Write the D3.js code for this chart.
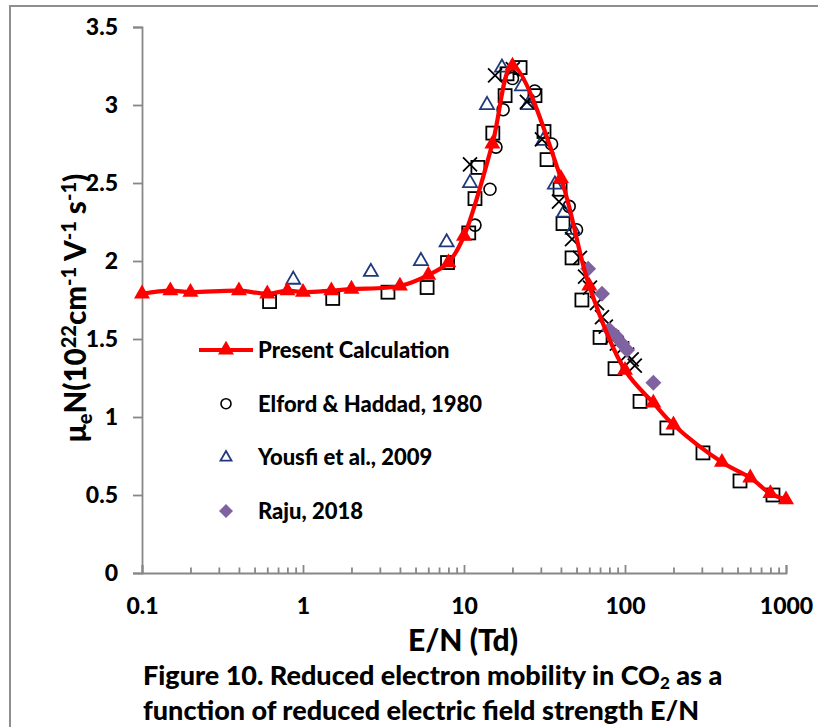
<!DOCTYPE html>
<html>
<head>
<meta charset="utf-8">
<script src="https://cdn.jsdelivr.net/npm/d3@7"></script>
<style>
  body { margin: 0; background: #fff; }
  svg { display: block; }
  text { font-family: Lato, "Open Sans", sans-serif; font-weight: 900; fill: #000; }
</style>
</head>
<body>
<svg id="chart" width="818" height="727"></svg>
<script>
// Reduced electron mobility in CO2, E/N in Td, mobility in 1e22 cm^-1 V^-1 s^-1

// Present calculation (red line with triangles)
const presentCalc = [
  [0.1, 1.79], [0.15, 1.81], [0.2, 1.80], [0.4, 1.81], [0.6, 1.79], [0.8, 1.81],
  [1, 1.80], [1.5, 1.81], [2, 1.82], [4, 1.84], [6, 1.91], [8, 1.99], [10, 2.16],
  [15, 2.75], [20, 3.25], [40, 2.53], [60, 1.84], [100, 1.30], [150, 1.09],
  [200, 0.95], [400, 0.71], [600, 0.61], [800, 0.51], [1000, 0.47]
];

// Elford & Haddad, 1980 (open circles)
const elfordHaddad = [
  [11.7, 2.23], [14.5, 2.46], [15.8, 2.73], [17.5, 2.97], [20, 3.17],
  [27.5, 3.09], [35, 2.75], [45, 2.35], [50, 2.20]
];

// Yousfi et al., 2009 (open triangles)
const yousfi = [
  [0.87, 1.88], [2.64, 1.93], [5.4, 2.00], [7.8, 2.12], [10.9, 2.50],
  [13.9, 3.00], [17.2, 3.24], [22.9, 3.12], [25, 3.00], [31, 2.77],
  [36.7, 2.49], [41.8, 2.31], [47.5, 2.20]
];

// Raju, 2018 (filled diamonds)
const raju = [
  [59, 1.95], [72, 1.79], [80, 1.56], [88, 1.52], [96, 1.47], [103, 1.43], [150, 1.22]
];

// Further measurements shown without a legend entry (open squares)
const squaresSet = [
  [0.62, 1.74], [1.53, 1.76], [3.37, 1.80], [5.9, 1.83], [7.9, 1.99],
  [10.7, 2.18], [11.7, 2.40], [12.2, 2.60], [15.1, 2.82], [18, 3.06],
  [18.5, 3.20], [22.3, 3.24], [27.6, 3.06], [31.4, 2.83], [32.8, 2.65],
  [39.5, 2.46], [41.2, 2.24], [46.9, 2.02], [54, 1.75], [70, 1.51],
  [86.7, 1.31], [124, 1.10], [182, 0.93], [305, 0.77], [518, 0.59], [830, 0.50]
];

// Further measurements shown without a legend entry (crosses)
const crossesSet = [
  [10.9, 2.62], [15.6, 3.19], [20.1, 3.23], [24.6, 3.02], [30.5, 2.78],
  [38.9, 2.38], [46.9, 2.14], [52.5, 2.02], [56.5, 1.90], [60.6, 1.83],
  [67, 1.73], [72, 1.64], [76, 1.58], [83, 1.51], [89, 1.47], [96, 1.44],
  [103, 1.40], [110, 1.37], [115, 1.33]
];

const xTickValues = [0.1, 1, 10, 100, 1000];
const yTickValues = [0, 0.5, 1, 1.5, 2, 2.5, 3, 3.5];

const legendItems = [
  { label: "Present Calculation", kind: "present" },
  { label: "Elford & Haddad, 1980", kind: "circle" },
  { label: "Yousfi et al., 2009", kind: "triangle" },
  { label: "Raju, 2018", kind: "diamond" }
];

const RED = "#ff0000";
const NAVY = "#1f3a7a";
const PURPLE = "#7f63a1";
const AXIS = "#878787";

const svg = d3.select("#chart");

// outer chart frame
svg.append("rect")
  .attr("x", 10).attr("y", 6).attr("width", 840).attr("height", 760)
  .attr("fill", "none").attr("stroke", "#8e8e8e").attr("stroke-width", 2);

const x = d3.scaleLog().domain([0.1, 1000]).range([142, 786]);
const y = d3.scaleLinear().domain([0, 3.5]).range([573, 27]);

// y axis
const yAxis = svg.append("g")
  .attr("transform", `translate(${x(0.1)},0)`)
  .call(d3.axisLeft(y).tickValues(yTickValues).tickSize(9).tickPadding(15).tickFormat(d => String(d)));
yAxis.selectAll("text").style("font-size", "23px");

// x axis: minor ticks
const minor = [];
for (let e = -1; e < 3; e++) for (let m = 2; m <= 9; m++) minor.push(m * Math.pow(10, e));
svg.append("g")
  .attr("transform", `translate(0,${y(0)})`)
  .call(d3.axisBottom(x).tickValues(minor).tickSize(-5.5).tickFormat(""))
  .call(g => g.select(".domain").remove());

// x axis: major ticks and labels
const xAxis = svg.append("g")
  .attr("transform", `translate(0,${y(0)})`)
  .call(d3.axisBottom(x).tickValues(xTickValues).tickSize(-8).tickPadding(25).tickFormat(d => String(d)));
xAxis.selectAll("text").style("font-size", "23px");

svg.selectAll(".domain, .tick line").attr("stroke", AXIS).attr("stroke-width", 1.8);
svg.selectAll(".tick text").attr("fill", "#000");

// axis titles
svg.append("text")
  .attr("x", 463).attr("y", 651)
  .attr("text-anchor", "middle").style("font-size", "30px")
  .text("E/N (Td)");

const yTitle = svg.append("text")
  .attr("transform", "translate(86,308) rotate(-90)")
  .attr("text-anchor", "middle").style("font-size", "29.5px");
yTitle.append("tspan").text("μ");
yTitle.append("tspan").attr("dy", 6).style("font-size", "20px").text("e");
yTitle.append("tspan").attr("dy", -6).text("N(10");
yTitle.append("tspan").attr("dy", -10).style("font-size", "20px").text("22");
yTitle.append("tspan").attr("dy", 10).text("cm");
yTitle.append("tspan").attr("dy", -10).style("font-size", "20px").text("-1");
yTitle.append("tspan").attr("dy", 10).text(" V");
yTitle.append("tspan").attr("dy", -10).style("font-size", "20px").text("-1");
yTitle.append("tspan").attr("dy", 10).text(" s");
yTitle.append("tspan").attr("dy", -10).style("font-size", "20px").text("-1");
yTitle.append("tspan").attr("dy", 10).text(")");

// caption
const cap1 = svg.append("text").attr("x", 143).attr("y", 685).style("font-size", "27px");
cap1.append("tspan").text("Figure 10. Reduced electron mobility in CO");
cap1.append("tspan").attr("dy", 4).style("font-size", "17px").text("2");
cap1.append("tspan").attr("dy", -4).text(" as a");
svg.append("text").attr("x", 143).attr("y", 720).style("font-size", "27px")
  .text("function of reduced electric field strength E/N");

// marker helpers
function triPath(s) {
  const h = s * Math.sqrt(3) / 2;
  return `M0,${-h * 2 / 3}L${s / 2},${h / 3}L${-s / 2},${h / 3}Z`;
}
function drawMarker(g, kind) {
  if (kind === "circle") {
    g.append("circle").attr("r", 6).attr("fill", "none").attr("stroke", "#000").attr("stroke-width", 1.6);
  } else if (kind === "square") {
    g.append("rect").attr("x", -6.5).attr("y", -6.5).attr("width", 13).attr("height", 13)
      .attr("fill", "none").attr("stroke", "#000").attr("stroke-width", 1.8);
  } else if (kind === "cross") {
    g.append("path").attr("d", "M-7,-7L7,7M-7,7L7,-7").attr("stroke", "#000").attr("stroke-width", 1.8);
  } else if (kind === "triangle") {
    g.append("path").attr("d", triPath(14)).attr("fill", "none").attr("stroke", NAVY).attr("stroke-width", 1.8);
  } else if (kind === "diamond") {
    g.append("path").attr("d", "M0,-8L8,0L0,8L-8,0Z").attr("fill", PURPLE);
  } else if (kind === "present") {
    g.append("path").attr("d", triPath(16)).attr("fill", RED);
  }
}
function drawSeries(data, kind) {
  const g = svg.append("g");
  data.forEach(d => {
    const m = g.append("g").attr("transform", `translate(${x(d[0])},${y(d[1])})`);
    drawMarker(m, kind);
  });
}

// measured data
drawSeries(squaresSet, "square");
drawSeries(elfordHaddad, "circle");
drawSeries(yousfi, "triangle");
drawSeries(crossesSet, "cross");
drawSeries(raju, "diamond");

// present calculation: smoothed line with triangle markers
const line = d3.line().x(d => x(d[0])).y(d => y(d[1])).curve(d3.curveCatmullRom.alpha(0.5));
svg.append("path").datum(presentCalc).attr("d", line)
  .attr("fill", "none").attr("stroke", RED).attr("stroke-width", 4.2).attr("stroke-linejoin", "round");
drawSeries(presentCalc, "present");

// legend
const legend = svg.append("g");
legendItems.forEach((item, i) => {
  const cy = 350 + i * 53.7;
  const row = legend.append("g").attr("transform", `translate(0,${cy})`);
  if (item.kind === "present") {
    row.append("line").attr("x1", 199).attr("x2", 253).attr("y1", 0).attr("y2", 0)
      .attr("stroke", RED).attr("stroke-width", 4.2);
  }
  const m = row.append("g").attr("transform", "translate(226,0)");
  if (item.kind === "circle") {
    m.append("circle").attr("r", 5).attr("fill", "none").attr("stroke", "#000").attr("stroke-width", 1.6);
  } else if (item.kind === "triangle") {
    m.append("path").attr("d", triPath(11)).attr("fill", "none").attr("stroke", NAVY).attr("stroke-width", 1.8);
  } else if (item.kind === "diamond") {
    m.append("path").attr("d", "M0,-7L7,0L0,7L-7,0Z").attr("fill", PURPLE);
  } else {
    drawMarker(m, item.kind);
  }
  row.append("text").attr("x", 258).attr("y", 8).style("font-size", "22px").text(item.label);
});
</script>
</body>
</html>
